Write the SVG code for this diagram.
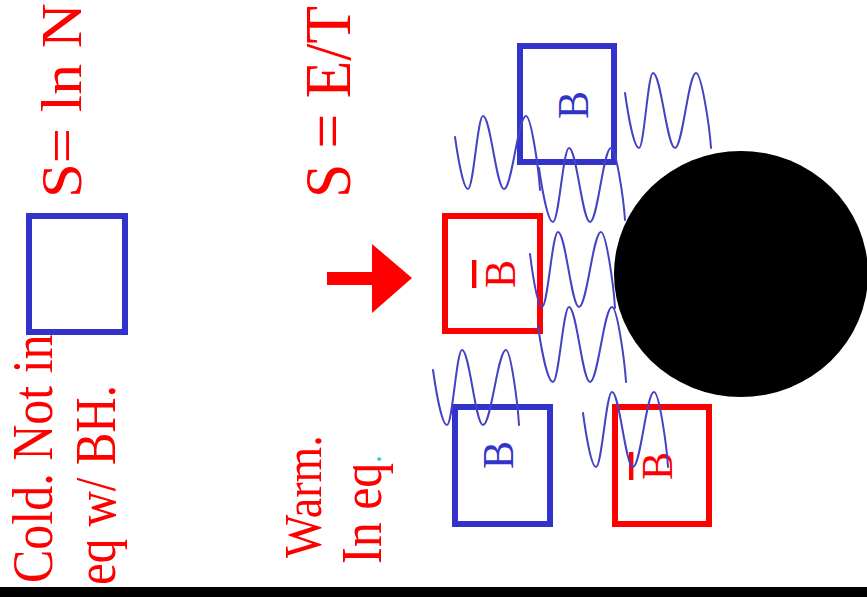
<svg xmlns="http://www.w3.org/2000/svg" width="867" height="597" viewBox="0 0 867 597">
<style>
.t{font-family:"Liberation Serif","Times New Roman",serif;fill:#f00}
.lbl{font-family:"Liberation Serif","Times New Roman",serif;font-size:42px;text-anchor:middle}
.bb{fill:none;stroke:#3333cc;stroke-width:6}
.rb{fill:none;stroke:#f00;stroke-width:6}
.w{fill:none;stroke:#4343c3;stroke-width:2;stroke-linecap:round}
</style>
<rect x="0" y="0" width="867" height="597" fill="#fff"/>
<rect x="0" y="587" width="867" height="10" fill="#000"/>

<g id="cold-text">
<text class="t" font-size="50" transform="translate(52,583) rotate(-90) scale(1,1.13)">Cold. Not in</text>
<text class="t" font-size="50" transform="translate(115,585) rotate(-90) scale(1,1.13)" textLength="200" lengthAdjust="spacingAndGlyphs">eq w/ BH.</text>
</g>
<g id="cold-box"><rect class="bb" x="29" y="216" width="96" height="116"/></g>
<g id="s-ln-n"><text class="t" font-size="56" transform="translate(81,198) rotate(-90)" textLength="195" lengthAdjust="spacingAndGlyphs">S= ln N</text></g>
<g id="s-e-t"><text class="t" font-size="60" transform="translate(350,198) rotate(-90) scale(1,1.1)" textLength="192" lengthAdjust="spacingAndGlyphs">S = E/T</text></g>
<g id="warm-text">
<text class="t" font-size="46" transform="translate(321,558) rotate(-90) scale(1,1.15)">Warm.</text>
<text class="t" font-size="50" transform="translate(381,564) rotate(-90) scale(1,1.13)">In eq<tspan fill="#33cccc" font-size="30">.</tspan></text>
</g>
<g id="arrow"><polygon points="327,272 372,272 372,244 412,278 372,313 372,285 327,285" fill="#f00"/></g>

<g id="black-hole"><ellipse cx="741" cy="274" rx="127" ry="123" fill="#000"/></g>

<g id="box-b-top"><rect class="bb" x="520" y="46" width="94" height="116"/>
<text class="lbl" fill="#3333cc" transform="translate(588,105) rotate(-90) scale(1,1.05)">B</text></g>
<g id="box-bbar-mid"><rect class="rb" x="445" y="216" width="95" height="115"/>
<text class="lbl" fill="#f00" text-decoration="overline" transform="translate(515,274) rotate(-90) scale(1,1.05)">B</text></g>
<g id="box-b-bottom"><rect class="bb" x="455" y="407" width="95" height="117"/>
<text class="lbl" fill="#3333cc" transform="translate(513,455) rotate(-90) scale(1,1.05)">B</text></g>
<g id="box-bbar-bottom"><rect class="rb" x="615" y="407" width="94" height="117"/>
<text class="lbl" fill="#f00" text-decoration="overline" transform="translate(672,466) rotate(-90) scale(1,1.05)">B</text></g>

<g id="waves">
<path class="w" d="M455,137 C458.3,160.4 463.5,189 468,189 C473.4,189 477.6,116 483,116 C490.6,116 496.4,189 504,189 C512,189 518,116 526,116 C531.1,116 538.6,168 540,190"/>
<path class="w" d="M539,168 C542.5,192.3 548.1,222 553,222 C558.8,222 563.2,148 569,148 C576.6,148 582.4,222 590,222 C597.6,222 603.4,148 611,148 C616.1,148 623.6,198.4 625,220"/>
<path class="w" d="M625,93 C628.5,117.8 634.1,148 639,148 C644.1,148 647.9,73 653,73 C661,73 667,148 675,148 C682.6,148 688.4,73 696,73 C701.4,73 709.5,125.5 711,148"/>
<path class="w" d="M530,254 C533,277.9 537.8,307 542,307 C547.8,307 552.2,232 558,232 C565.6,232 571.4,307 579,307 C587,307 593,232 601,232 C606.1,232 613.6,285.2 615,308"/>
<path class="w" d="M538,326 C541.8,352.3 547.8,382 553,382 C558.8,382 563.2,307 569,307 C576.6,307 582.4,382 590,382 C598,382 604,307 612,307 C617.1,307 624.6,359.5 626,382"/>
<path class="w" d="M433,370 C436.5,394.8 442.1,425 447,425 C452.4,425 456.6,350 462,350 C469.6,350 475.4,425 483,425 C491.3,425 497.7,350 506,350 C510.7,350 517.7,402.5 519,425"/>
<path class="w" d="M583,413 C586.3,437.3 591.5,467 596,467 C601.8,467 606.2,392 612,392 C619.6,392 625.4,467 633,467 C640.6,467 646.4,392 654,392 C659.1,392 666.6,444.5 668,467"/>
</g>
</svg>
